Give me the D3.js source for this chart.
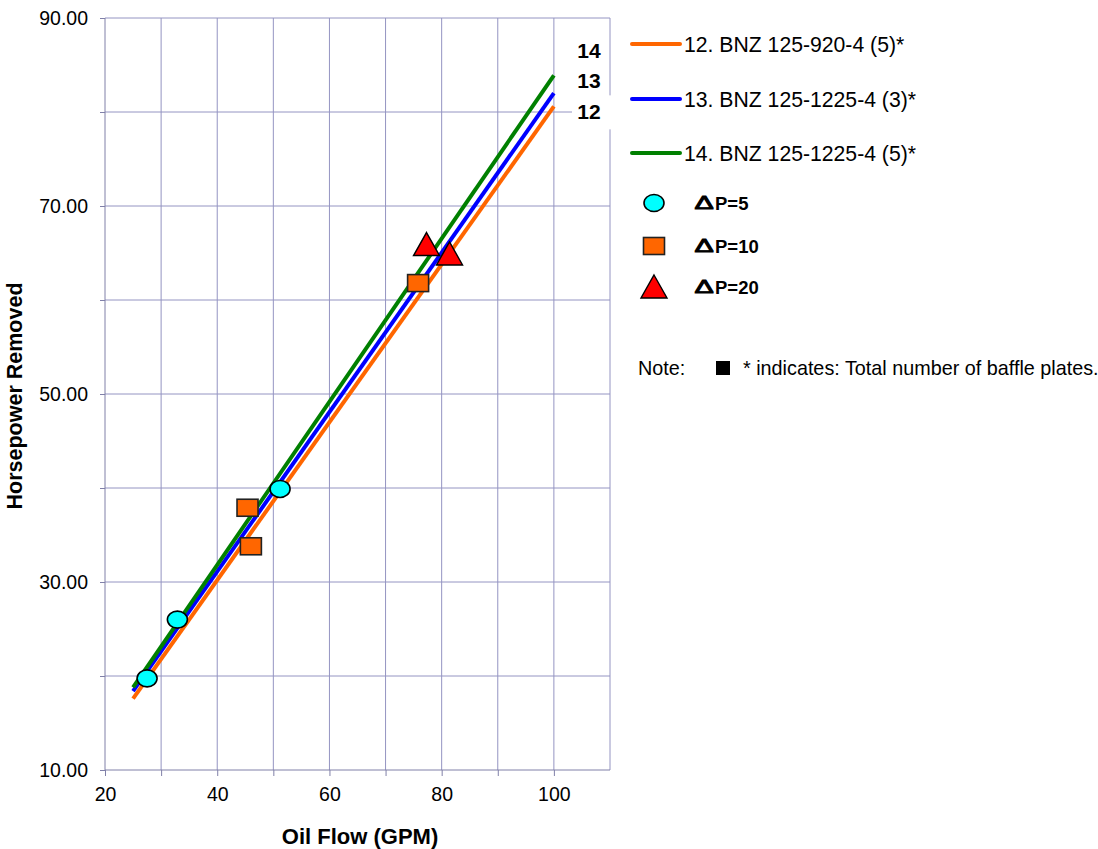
<!DOCTYPE html>
<html>
<head>
<meta charset="utf-8">
<script src="https://cdn.jsdelivr.net/npm/d3@7"></script>
<style>
  html, body { margin: 0; padding: 0; background: #fff; }
  svg { display: block; font-family: "Liberation Sans", Arial, sans-serif; }
</style>
</head>
<body>
<svg id="chart" width="1098" height="849"></svg>
<script>
// ---- data ----
const lineX = [25, 100];
const seriesNames = ["12. BNZ 125-920-4 (5)*", "13. BNZ 125-1225-4 (3)*", "14. BNZ 125-1225-4 (5)*"];
const seriesShort = ["12", "13", "14"];
const seriesColors = ["#ff6600", "#0000ff", "#008000"];
const series12 = [17.6, 80.6];
const series13 = [18.4, 82.0];
const series14 = [18.8, 83.9];
const seriesValues = [series12, series13, series14];

const dp5X = [27.5, 32.9, 51.2];
const dp5Y = [19.75, 26.0, 39.9];
const dp10X = [45.4, 46.0, 75.8];
const dp10Y = [37.9, 33.8, 61.8];
const dp20X = [77.3, 81.4];
const dp20Y = [65.9, 64.9];
const markerNames = ["P=5", "P=10", "P=20"];

const xTicks = [20, 40, 60, 80, 100];
const yTicks = [10, 30, 50, 70, 90];
const xGrid = [30, 40, 50, 60, 70, 80, 90, 100];
const yGrid = [20, 30, 40, 50, 60, 70, 80, 90];

// ---- layout ----
const svg = d3.select("#chart");
const L = 105, R = 610, T = 18, B = 770;
const x = d3.scaleLinear().domain([20, 110]).range([L, R]);
const y = d3.scaleLinear().domain([10, 90]).range([B, T]);
const gridColor = "#9494c2";
const axisColor = "#8080a8";

// grid
svg.append("g").selectAll("line").data(xGrid).join("line")
  .attr("x1", d => x(d)).attr("x2", d => x(d)).attr("y1", T).attr("y2", B)
  .attr("stroke", gridColor).attr("stroke-width", 1);
svg.append("g").selectAll("line").data(yGrid).join("line")
  .attr("x1", L).attr("x2", R).attr("y1", d => y(d)).attr("y2", d => y(d))
  .attr("stroke", gridColor).attr("stroke-width", 1);
// right border
svg.append("line").attr("x1", R).attr("x2", R).attr("y1", T).attr("y2", B)
  .attr("stroke", gridColor);

// axes
const xAxis = d3.axisBottom(x).tickValues(d3.range(20, 101, 10)).tickSize(6)
  .tickFormat(d => xTicks.includes(d) ? d : "");
const gx = svg.append("g").attr("transform", `translate(0,${B})`).call(xAxis);
gx.select(".domain").attr("stroke", axisColor).attr("d", `M${L},0H${R}`);
gx.selectAll(".tick line").attr("stroke", axisColor);
gx.selectAll(".tick text").attr("font-size", 19.5).attr("fill", "#000")
  .attr("font-family", "Liberation Sans, Arial, sans-serif").attr("dy", "1.15em");

const yAxis = d3.axisLeft(y).tickValues(d3.range(10, 91, 10)).tickSize(5)
  .tickFormat(d => yTicks.includes(d) ? d3.format(".2f")(d) : "");
const gy = svg.append("g").attr("transform", `translate(${L},0)`).call(yAxis);
gy.select(".domain").attr("stroke", axisColor).attr("d", `M0,${T}V${B}`);
gy.selectAll(".tick line").attr("stroke", axisColor);
gy.selectAll(".tick text").attr("font-size", 19.5).attr("fill", "#000")
  .attr("font-family", "Liberation Sans, Arial, sans-serif").attr("x", -17);

// axis titles
svg.append("text").attr("x", 360).attr("y", 844).attr("text-anchor", "middle")
  .attr("font-size", 22).attr("font-weight", "bold").text("Oil Flow (GPM)");
svg.append("text").attr("transform", "translate(22,396) rotate(-90)")
  .attr("text-anchor", "middle").attr("font-size", 21.5).attr("font-weight", "bold")
  .text("Horsepower Removed");

// lines
const line = d3.line().x((d, i) => x(lineX[i])).y(d => y(d));
svg.append("g").selectAll("path").data(seriesValues).join("path")
  .attr("d", d => line(d)).attr("fill", "none")
  .attr("stroke", (d, i) => seriesColors[i]).attr("stroke-width", 4);

// end labels
const labelOffsets = [5, -13, -25];
const lg = svg.append("g");
seriesValues.forEach((vals, i) => {
  const cy = y(vals[1]) + labelOffsets[i];
  const cx = x(lineX[1]) + 35;
  lg.append("rect").attr("x", i === 0 ? 572 : cx - 15).attr("y", cy - 16)
    .attr("width", i === 0 ? 44 : 30).attr("height", i === 0 ? 34 : 30).attr("fill", "#fff");
  lg.append("text").attr("x", cx).attr("y", cy).attr("dy", "0.36em")
    .attr("text-anchor", "middle").attr("font-size", 21).attr("font-weight", "bold")
    .text(seriesShort[i]);
});

// markers
const mk = svg.append("g");
function circleM(g, cx, cy) {
  g.append("ellipse").attr("cx", cx).attr("cy", cy).attr("rx", 10).attr("ry", 8.5)
    .attr("fill", "#00ffff").attr("stroke", "#000").attr("stroke-width", 1.6);
}
function squareM(g, cx, cy) {
  g.append("rect").attr("x", cx - 10.5).attr("y", cy - 8.5).attr("width", 21).attr("height", 17)
    .attr("fill", "#ff6600").attr("stroke", "#222").attr("stroke-width", 1.6);
}
function triM(g, cx, cy) {
  g.append("path").attr("d", `M${cx},${cy - 12}L${cx + 13},${cy + 11}L${cx - 13},${cy + 11}Z`)
    .attr("fill", "#ff0000").attr("stroke", "#000").attr("stroke-width", 1.4);
}
dp5X.forEach((v, i) => circleM(mk, x(v), y(dp5Y[i])));
dp10X.forEach((v, i) => squareM(mk, x(v), y(dp10Y[i])));
dp20X.forEach((v, i) => triM(mk, x(v), y(dp20Y[i])));

// legend: lines
const legY = [44, 99, 153];
seriesNames.forEach((name, i) => {
  svg.append("line").attr("x1", 632).attr("x2", 680).attr("y1", legY[i]).attr("y2", legY[i])
    .attr("stroke", seriesColors[i]).attr("stroke-width", 4).attr("stroke-linecap", "round");
  svg.append("text").attr("x", 684).attr("y", legY[i]).attr("dy", "0.36em")
    .attr("font-size", 21.2).text(name);
});
// legend: markers
const mY = [203, 246, 287];
const lgm = svg.append("g");
circleM(lgm, 654, mY[0]);
squareM(lgm, 654, mY[1]);
triM(lgm, 654, mY[2]);
markerNames.forEach((n, i) => {
  svg.append("text").attr("transform", `translate(694.5,${mY[i]}) scale(1.6,1)`)
    .attr("dy", "0.36em").attr("font-size", 18).attr("font-weight", "normal")
    .attr("stroke", "#000").attr("stroke-width", 0.9).text("\u0394");
  svg.append("text").attr("x", 715).attr("y", mY[i]).attr("dy", "0.36em")
    .attr("font-size", 18.5).attr("font-weight", "bold").text(n);
});

// note
svg.append("text").attr("x", 638).attr("y", 368).attr("dy", "0.36em").attr("font-size", 19.8).text("Note:");
svg.append("rect").attr("x", 716).attr("y", 361).attr("width", 14).attr("height", 14).attr("fill", "#000");
svg.append("text").attr("x", 743).attr("y", 368).attr("dy", "0.36em").attr("font-size", 19.8)
  .text("* indicates: Total number of baffle plates.");
</script>
</body>
</html>
